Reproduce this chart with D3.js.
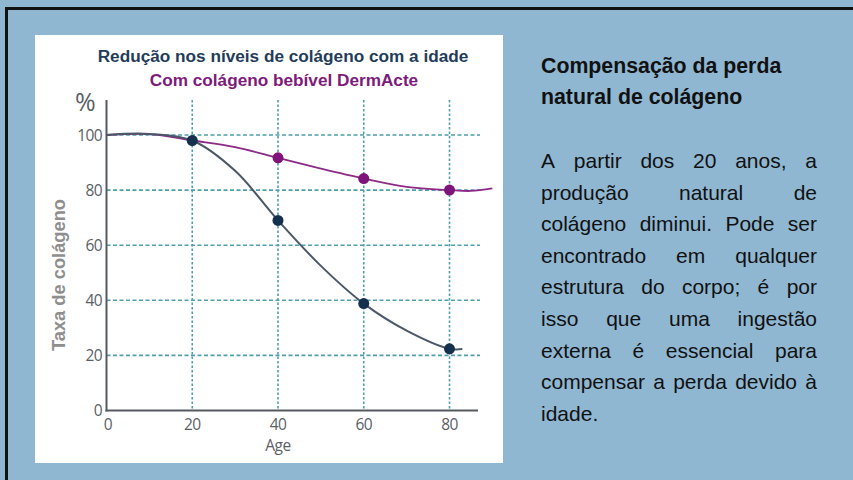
<!DOCTYPE html>
<html>
<head>
<meta charset="utf-8">
<script src="https://cdn.jsdelivr.net/npm/d3@7"></script>
<style>
  html, body { margin: 0; padding: 0; background: #8fb7d2; }
  svg { display: block; }
</style>
</head>
<body>
<svg id="chart" width="853" height="480"></svg>
<script>
// ---- Data ----
const chartTitle = "Redução nos níveis de colágeno com a idade";
const chartSubtitle = "Com colágeno bebível DermActe";
const yAxisLabel = "Taxa de colágeno";
const xAxisLabel = "Age";
const xTicks = [0, 20, 40, 60, 80];
const yTicks = [0, 20, 40, 60, 80, 100];

// natural decline curve (ages)
const naturalAges   = [0, 10, 20, 30, 40, 50, 60, 70, 80, 83];
const naturalValues = [100, 100.4, 98, 87, 69, 52.5, 38.8, 29, 22.4, 22.3];
// with DermActe curve
const dermAges   = [0, 10, 20, 30, 40, 50, 60, 70, 80, 85, 90];
const dermValues = [100, 100.3, 98, 95.6, 91.7, 87.8, 84.2, 81.2, 80, 79.7, 80.6];
// marked points
const naturalMarkAges = [20, 40, 60, 80];
const naturalMarkValues = [98, 69, 38.8, 22.4];
const dermMarkAges = [40, 60, 80];
const dermMarkValues = [91.7, 84.2, 80];

const headingLines = ["Compensação da perda", "natural de colágeno"];
const bodyLines = [
  "A partir dos 20 anos, a",
  "produção natural de",
  "colágeno diminui. Pode ser",
  "encontrado em qualquer",
  "estrutura do corpo; é por",
  "isso que uma ingestão",
  "externa é essencial para",
  "compensar a perda devido à",
  "idade."
];

// ---- Drawing ----
const svg = d3.select("#chart");

svg.append("rect").attr("x", 0).attr("y", 0).attr("width", 853).attr("height", 480).attr("fill", "#8fb7d2");
svg.append("path").attr("d", "M6.5,480 L6.5,8.5 L853,8.5")
  .attr("fill", "none").attr("stroke", "#111").attr("stroke-width", 3);

svg.append("rect").attr("x", 35).attr("y", 35).attr("width", 468).attr("height", 428).attr("fill", "#ffffff");

const x = d3.scaleLinear().domain([0, 80]).range([106.5, 449.5]);
const y = d3.scaleLinear().domain([0, 100]).range([410.5, 135]);

const gridColor = "#4f9fae";
const grid = svg.append("g");
grid.selectAll("line.h").data(yTicks.filter(d => d > 0)).join("line")
  .attr("x1", x(0)).attr("x2", 480)
  .attr("y1", d => y(d)).attr("y2", d => y(d))
  .attr("stroke", gridColor).attr("stroke-width", 1.6).attr("stroke-dasharray", "4,2.5");
grid.selectAll("line.v").data(xTicks.filter(d => d > 0)).join("line")
  .attr("x1", d => x(d)).attr("x2", d => x(d))
  .attr("y1", 100).attr("y2", y(0))
  .attr("stroke", gridColor).attr("stroke-width", 1.6).attr("stroke-dasharray", "2.5,2");

const axisColor = "#555a60";
svg.append("line").attr("x1", x(0)).attr("x2", x(0)).attr("y1", 100).attr("y2", y(0) + 1)
  .attr("stroke", axisColor).attr("stroke-width", 2);
svg.append("line").attr("x1", x(0) - 1).attr("x2", 478).attr("y1", y(0)).attr("y2", y(0))
  .attr("stroke", axisColor).attr("stroke-width", 2);

const tickFont = "'Open Sans', 'Noto Sans', sans-serif";
svg.append("g").selectAll("text").data(yTicks).join("text")
  .attr("x", 102).attr("y", d => y(d)).attr("dy", "0.36em")
  .attr("text-anchor", "end").attr("font-family", tickFont).attr("font-size", 15.5)
  .attr("letter-spacing", -0.6).attr("fill", "#5a5f66").text(d => d);
svg.append("g").selectAll("text").data(xTicks).join("text")
  .attr("x", d => x(d) + (d === 0 ? 1.5 : 0)).attr("y", 430)
  .attr("text-anchor", "middle").attr("font-family", tickFont).attr("font-size", 15.5)
  .attr("letter-spacing", -0.6).attr("fill", "#5a5f66").text(d => d);

svg.append("text").attr("x", 278).attr("y", 451).attr("text-anchor", "middle")
  .attr("font-family", tickFont).attr("font-size", 15.5).attr("letter-spacing", -0.4)
  .attr("fill", "#5a5f66").text(xAxisLabel);
svg.append("text").attr("x", 75).attr("y", 111)
  .attr("font-family", tickFont).attr("font-size", 25).attr("fill", "#5a5f66").text("%");

svg.append("text").attr("transform", "translate(65,275) rotate(-90)")
  .attr("text-anchor", "middle").attr("font-family", "'Liberation Sans', Arial, sans-serif")
  .attr("font-weight", "bold").attr("font-size", 18.3).attr("fill", "#8e8e8e").text(yAxisLabel);

svg.append("text").attr("x", 283).attr("y", 62).attr("text-anchor", "middle")
  .attr("font-family", "'Liberation Sans', Arial, sans-serif").attr("font-weight", "bold")
  .attr("font-size", 17.2).attr("fill", "#1f3d5a").text(chartTitle);
svg.append("text").attr("x", 284).attr("y", 86).attr("text-anchor", "middle")
  .attr("font-family", "'Liberation Sans', Arial, sans-serif").attr("font-weight", "bold")
  .attr("font-size", 17.2).attr("fill", "#7d1a7b").text(chartSubtitle);

const line = d3.line().x(d => x(d[0])).y(d => y(d[1])).curve(d3.curveCatmullRom.alpha(0.5));
svg.append("path").datum(d3.zip(dermAges, dermValues)).attr("d", line)
  .attr("fill", "none").attr("stroke", "#8d2a87").attr("stroke-width", 1.8);
svg.append("path").datum(d3.zip(naturalAges, naturalValues)).attr("d", line)
  .attr("fill", "none").attr("stroke", "#4a5868").attr("stroke-width", 2);

svg.append("g").selectAll("circle").data(d3.zip(dermMarkAges, dermMarkValues)).join("circle")
  .attr("cx", d => x(d[0])).attr("cy", d => y(d[1])).attr("r", 5.5).attr("fill", "#7e1479");
svg.append("g").selectAll("circle").data(d3.zip(naturalMarkAges, naturalMarkValues)).join("circle")
  .attr("cx", d => x(d[0])).attr("cy", d => y(d[1])).attr("r", 5.5).attr("fill", "#15304c");

const textFont = "'Liberation Sans', Arial, sans-serif";
const textLeft = 541, textRight = 817;
svg.append("g").selectAll("text").data(headingLines).join("text")
  .attr("x", textLeft).attr("y", (d, i) => 73 + i * 31)
  .attr("font-family", textFont).attr("font-weight", "bold").attr("font-size", 21.3)
  .attr("fill", "#111").text(d => d);

const body = svg.append("g");
bodyLines.forEach((ln, i) => {
  const by = 168 + i * 31.6;
  const words = ln.split(" ");
  const isLast = i === bodyLines.length - 1;
  const nodes = words.map(w => body.append("text").attr("y", by)
    .attr("font-family", textFont).attr("font-size", 21).attr("fill", "#111").text(w));
  const widths = nodes.map(n => n.node().getComputedTextLength());
  const total = d3.sum(widths);
  const spaceW = 5.8;
  const gap = (isLast || words.length < 2) ? spaceW : (textRight - textLeft - total) / (words.length - 1);
  let cx = textLeft;
  nodes.forEach((n, k) => { n.attr("x", cx); cx += widths[k] + gap; });
});
</script>
</body>
</html>
